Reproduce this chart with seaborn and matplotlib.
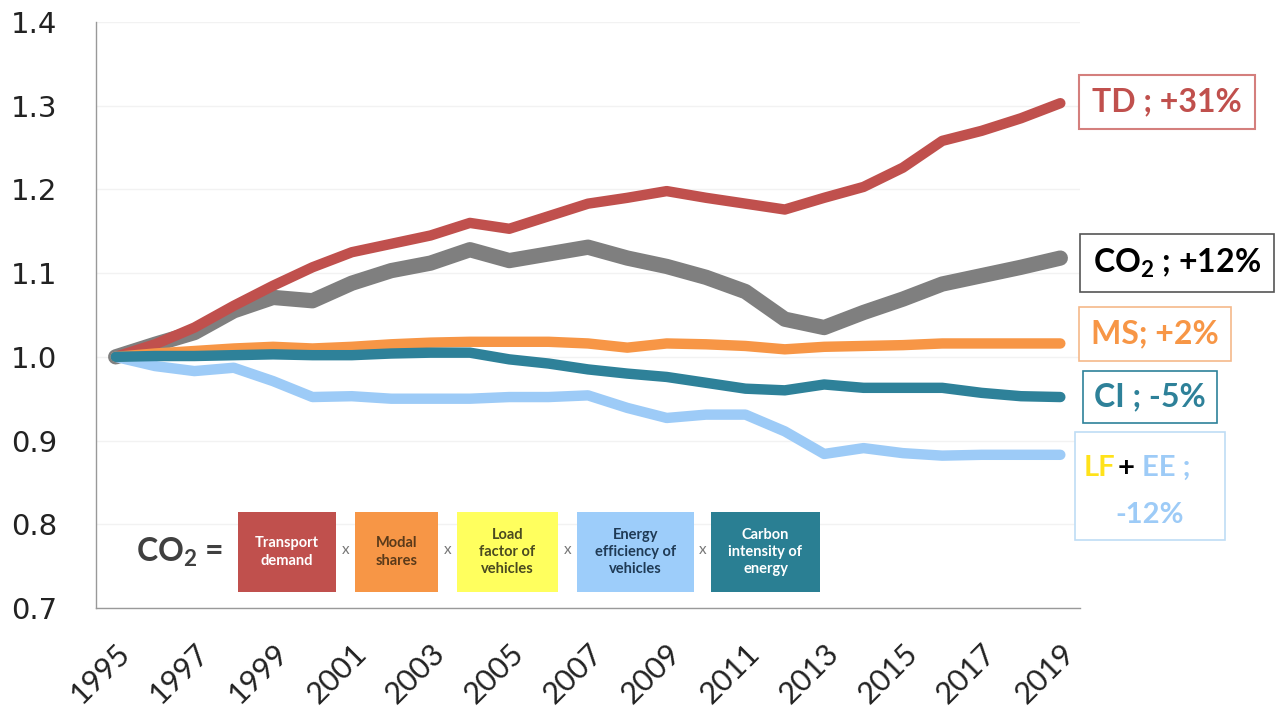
import numpy as np
import pandas as pd
import matplotlib.pyplot as plt
import seaborn as sns
from matplotlib.patches import Rectangle
from matplotlib.ticker import FixedLocator

years = list(range(1995, 2020))

td = [1.000, 1.015, 1.035, 1.061, 1.085, 1.107, 1.125, 1.135, 1.145, 1.160, 1.153, 1.168, 1.183,
      1.190, 1.198, 1.190, 1.183, 1.176, 1.190, 1.203, 1.226, 1.258, 1.270, 1.285, 1.303]
co2 = [1.000, 1.015, 1.029, 1.055, 1.071, 1.067, 1.088, 1.103, 1.112, 1.128, 1.115, 1.123, 1.131,
       1.118, 1.108, 1.095, 1.078, 1.045, 1.035, 1.053, 1.069, 1.087, 1.097, 1.107, 1.118]
ms = [1.000, 1.004, 1.007, 1.010, 1.012, 1.010, 1.012, 1.015, 1.017, 1.018, 1.018, 1.018, 1.016,
      1.011, 1.016, 1.015, 1.013, 1.009, 1.012, 1.013, 1.014, 1.016, 1.016, 1.016, 1.016]
ci = [1.000, 1.001, 1.001, 1.002, 1.003, 1.002, 1.002, 1.004, 1.005, 1.005, 0.997, 0.992, 0.985,
      0.980, 0.976, 0.969, 0.962, 0.960, 0.967, 0.963, 0.963, 0.963, 0.957, 0.953, 0.952]
ee = [1.000, 0.989, 0.983, 0.987, 0.971, 0.952, 0.953, 0.950, 0.950, 0.950, 0.952, 0.952, 0.954,
      0.939, 0.927, 0.931, 0.931, 0.911, 0.884, 0.891, 0.885, 0.882, 0.883, 0.883, 0.883]

year_labels = [str(y) for y in range(1995, 2020, 2)]
y_ticks = [0.7, 0.8, 0.9, 1.0, 1.1, 1.2, 1.3, 1.4]

RED = '#C0504D'
GRAY = '#7F7F7F'
ORANGE = '#F79646'
TEAL = '#2E8199'
LBLUE = '#9DCBF7'

sns.set_style('white')
plt.rcParams['font.family'] = ['DejaVu Sans']
plt.rcParams['mathtext.default'] = 'regular'

fig = plt.figure(figsize=(12.84, 7.19), dpi=100)
ax = fig.add_axes([96 / 1284, 1 - 608 / 719, (1080 - 96) / 1284, (608 - 22) / 719])


def px(x, y):
    return x / 1284, 1 - y / 719


# draw order: gray under red, teal on top
series = [(co2, GRAY, 11), (td, RED, 7.5), (ee, LBLUE, 7.5), (ms, ORANGE, 7.5), (ci, TEAL, 7.5)]
for vals, col, lw in series:
    sns.lineplot(x=years, y=vals, ax=ax, color=col, linewidth=lw,
                 solid_capstyle='round', solid_joinstyle='round')

ax.set_xlim(1994.5, 2019.5)
ax.set_ylim(0.7, 1.4)
ax.set_yticks(y_ticks)
ax.set_yticklabels([f'{v:.1f}' for v in y_ticks], fontsize=21, color='#222222')
ax.set_xticks(range(1995, 2020, 2))
ax.set_xticklabels(year_labels, rotation=45, ha='right', rotation_mode='anchor',
                   fontsize=22, family='Lato', color='#222222')
ax.xaxis.set_minor_locator(FixedLocator(np.arange(1994.5, 2020, 1)))
ax.tick_params(axis='x', which='major', length=0, pad=22)
ax.tick_params(axis='x', which='minor', length=10, width=1, color='#999999', direction='out')
ax.tick_params(axis='y', length=10, width=1, color='#999999', direction='out', pad=18)
ax.grid(axis='y', color='#F2F2F2', linewidth=1)
for s in ['top', 'right']:
    ax.spines[s].set_visible(False)
for s in ['left', 'bottom']:
    ax.spines[s].set_color('#999999')
    ax.spines[s].set_linewidth(1)
ax.set_xlabel('')
ax.set_ylabel('')

# right-hand labels
lab_font = dict(family='Lato', fontweight='bold', fontsize=23, ha='center', va='center')
fig.text(*px(1167, 102), 'TD ; +31%', color=RED,
         bbox=dict(boxstyle='square,pad=0.4', fc='white', ec='#D47F7D', lw=1.5), **lab_font)
fig.text(*px(1177, 263), 'CO$_2$ ; +12%', color='black',
         bbox=dict(boxstyle='square,pad=0.4', fc='white', ec='#555555', lw=1.2), **lab_font)
fig.text(*px(1155, 334), 'MS; +2%', color=ORANGE,
         bbox=dict(boxstyle='square,pad=0.38', fc='white', ec='#F5B98A', lw=1.2), **lab_font)
fig.text(*px(1150, 397), 'CI ; -5%', color=TEAL,
         bbox=dict(boxstyle='square,pad=0.35', fc='white', ec=TEAL, lw=1.2), **lab_font)

fig.add_artist(Rectangle(px(1075, 540), 150 / 1284, 108 / 719, transform=fig.transFigure,
                         fc='white', ec='#BFDDF5', lw=1.2))
lf_font = dict(family='Lato', fontweight='bold', fontsize=21, ha='left', va='center')
fig.text(*px(1084, 468), 'LF', color='#FFE21A', **lf_font)
fig.text(*px(1118, 468), '+', color='black', **lf_font)
fig.text(*px(1142, 468), 'EE ;', color=LBLUE, **lf_font)
fig.text(*px(1150, 515), '-12%', color=LBLUE, family='Lato', fontweight='bold',
         fontsize=21, ha='center', va='center')

# CO2 decomposition formula
fig.text(*px(180, 552), 'CO$_2$ =', color='#404040', family='Lato', fontweight='bold',
         fontsize=23, ha='center', va='center')
boxes = [
    (238, 336, RED, 'Transport\ndemand', 'white'),
    (355, 438, ORANGE, 'Modal\nshares', '#5A3A1A'),
    (457, 558, '#FFFF5E', 'Load\nfactor of\nvehicles', '#4A4A20'),
    (577, 694, '#9DCDFA', 'Energy\nefficiency of\nvehicles', '#1F3A55'),
    (711, 820, '#2A7F93', 'Carbon\nintensity of\nenergy', 'white'),
]
for i, (x0, x1, fc, txt, tc) in enumerate(boxes):
    fig.add_artist(Rectangle(px(x0, 592), (x1 - x0) / 1284, 80 / 719,
                             transform=fig.transFigure, fc=fc, ec='none'))
    fig.text(*px((x0 + x1) / 2, 552), txt, color=tc, family='Lato', fontweight='bold',
             fontsize=10.5, ha='center', va='center', linespacing=1.3)
    if i < len(boxes) - 1:
        nx = boxes[i + 1][0]
        fig.text(*px((x1 + nx) / 2, 550), 'x', color='#777777', family='Lato',
                 fontsize=11, ha='center', va='center')

fig.savefig('out.png', dpi=100)
